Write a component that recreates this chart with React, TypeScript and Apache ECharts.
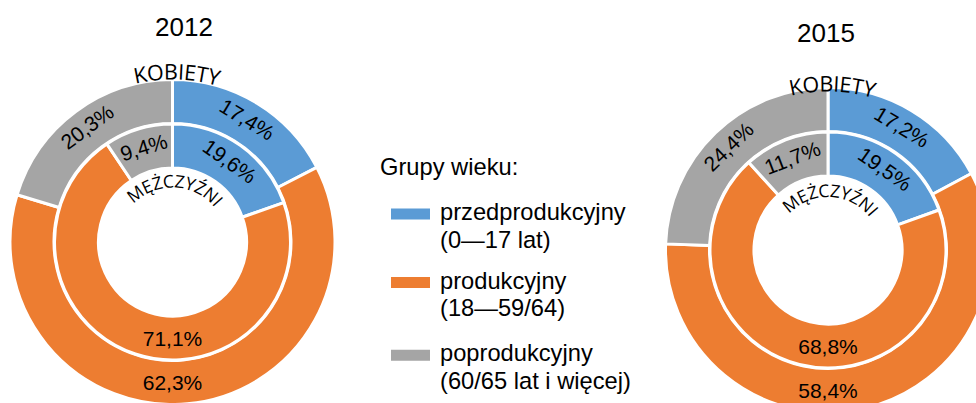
import React, { useEffect, useRef } from 'react';
import * as echarts from 'echarts';

// ---------- data ----------
const groups = ['przedprodukcyjny', 'produkcyjny', 'poprodukcyjny'];
const groupRanges = ['(0—17 lat)', '(18—59/64)', '(60/65 lat i więcej)'];
const years = ['2012', '2015'];
const women2012 = [17.4, 62.3, 20.3];
const men2012 = [19.6, 71.1, 9.4];
const women2015 = [17.2, 58.4, 24.4];
const men2015 = [19.5, 68.8, 11.7];
const outerRingLabel = 'KOBIETY';
const innerRingLabel = 'MĘŻCZYŹNI';
const legendTitle = 'Grupy wieku:';

// ---------- styles / layout ----------
const W = 976;
const H = 403;
const COLORS = ['#5B9BD5', '#ED7D31', '#A5A5A5'];
const NUM_FONT = 'Liberation Sans';
const ARC_FONT = 'Open Sans';
const BORDER = 3;
const OUTER_R: [number, number] = [118.5, 162.5];
const INNER_R: [number, number] = [74, 118];
const CHARTS = [
  { cx: 172.5, cy: 242, titleX: 184, titleY: 27, kobR: 171, menR: 61.5 },
  { cx: 828, cy: 250, titleX: 826, titleY: 32.5, kobR: 167, menR: 60 },
];
const LEGEND_X_RECT = 391;
const LEGEND_X_TEXT = 440;
const LEGEND_TITLE_BASE = 175;
const LEGEND_BASES = [220, 288.5, 361.3];
const LEGEND_LINE_GAP = 27.8;
const LEGEND_FONT = 23.7;

const fmt = (v: number) => v.toFixed(1).replace('.', ',') + '%';

function measureChars(text: string, font: string): number[] {
  const ctx = document.createElement('canvas').getContext('2d');
  const chars = Array.from(text);
  if (!ctx) return chars.map(() => 12);
  ctx.font = font;
  return chars.map((ch) => ctx.measureText(ch).width);
}

function arcText(
  text: string,
  cx: number,
  cy: number,
  rCenter: number,
  rAdv: number,
  centerDeg: number,
  fontSize: number
) {
  const font = `${fontSize}px "${ARC_FONT}"`;
  const chars = Array.from(text);
  const ws = measureChars(text, font);
  const total = ws.reduce((a, b) => a + b, 0);
  let acc = -total / 2;
  return chars.map((ch, i) => {
    const s = acc + ws[i] / 2;
    acc += ws[i];
    const a = (centerDeg * Math.PI) / 180 + s / rAdv;
    return {
      type: 'text',
      x: cx + rCenter * Math.sin(a),
      y: cy - rCenter * Math.cos(a),
      rotation: -a,
      z: 100,
      silent: true,
      style: {
        text: ch,
        font,
        fill: '#000',
        align: 'center',
        verticalAlign: 'middle',
        textAlign: 'center',
        textVerticalAlign: 'middle',
      },
    };
  });
}

function textEl(text: string, x: number, y: number, fontSize: number, align = 'left') {
  return {
    type: 'text',
    x,
    y,
    z: 100,
    silent: true,
    style: {
      text,
      font: `${fontSize}px "${NUM_FONT}"`,
      fill: '#000',
      align,
      verticalAlign: 'middle',
      textAlign: align,
      textVerticalAlign: 'middle',
    },
  };
}

function pieSeries(values: number[], radius: [number, number], cx: number, cy: number) {
  const rMid = (radius[0] + radius[1]) / 2;
  return {
    type: 'pie',
    center: [cx, cy],
    radius,
    startAngle: 90,
    clockwise: true,
    avoidLabelOverlap: false,
    silent: true,
    emphasis: { disabled: true },
    itemStyle: { borderColor: '#fff', borderWidth: BORDER },
    label: {
      show: true,
      position: 'inside',
      rotate: 'tangential',
      formatter: (p: any) => fmt(p.value),
      fontFamily: NUM_FONT,
      fontSize: 21,
      color: '#000',
    },
    labelLine: { show: false },
    labelLayout: (params: any) =>
      params.dataIndex === 1
        ? { x: cx, y: cy + rMid, rotate: 0, align: 'center', verticalAlign: 'middle' }
        : {},
    data: groups.map((g, i) => ({
      name: g,
      value: values[i],
      itemStyle: { color: COLORS[i] },
    })),
  };
}

export default function App() {
  const ref = useRef<HTMLDivElement>(null);

  useEffect(() => {
    document.body.style.margin = '0';
    if (!ref.current) return;
    const chart = echarts.init(ref.current, undefined, { renderer: 'svg' });

    const womenData = [women2012, women2015];
    const menData = [men2012, men2015];

    const series: any[] = [];
    const graphics: any[] = [];
    CHARTS.forEach((c, k) => {
      series.push(pieSeries(womenData[k], OUTER_R, c.cx, c.cy));
      series.push(pieSeries(menData[k], INNER_R, c.cx, c.cy));
      graphics.push(textEl(years[k], c.titleX, c.titleY, 26, 'center'));
      graphics.push(...arcText(outerRingLabel, c.cx, c.cy, c.kobR, c.kobR - 4, 1.5, 21.5));
      graphics.push(...arcText(innerRingLabel, c.cx, c.cy, c.menR, c.menR - 5.5, 2.5, 17.5));
    });

    graphics.push(textEl(legendTitle, 380, LEGEND_TITLE_BASE - 8, LEGEND_FONT));
    groups.forEach((g, i) => {
      const base = LEGEND_BASES[i];
      graphics.push({
        type: 'rect',
        z: 100,
        silent: true,
        shape: { x: LEGEND_X_RECT, y: base - 11.5, width: 39, height: 11 },
        style: { fill: COLORS[i] },
      });
      graphics.push(textEl(g, LEGEND_X_TEXT, base - 8, LEGEND_FONT));
      graphics.push(textEl(groupRanges[i], LEGEND_X_TEXT, base + LEGEND_LINE_GAP - 8, LEGEND_FONT));
    });

    chart.setOption({
      animation: false,
      backgroundColor: '#fff',
      series,
      graphic: { elements: graphics },
    });

    return () => chart.dispose();
  }, []);

  return (
    <div
      ref={ref}
      style={{ position: 'absolute', left: 0, top: 0, width: W, height: H }}
    />
  );
}
